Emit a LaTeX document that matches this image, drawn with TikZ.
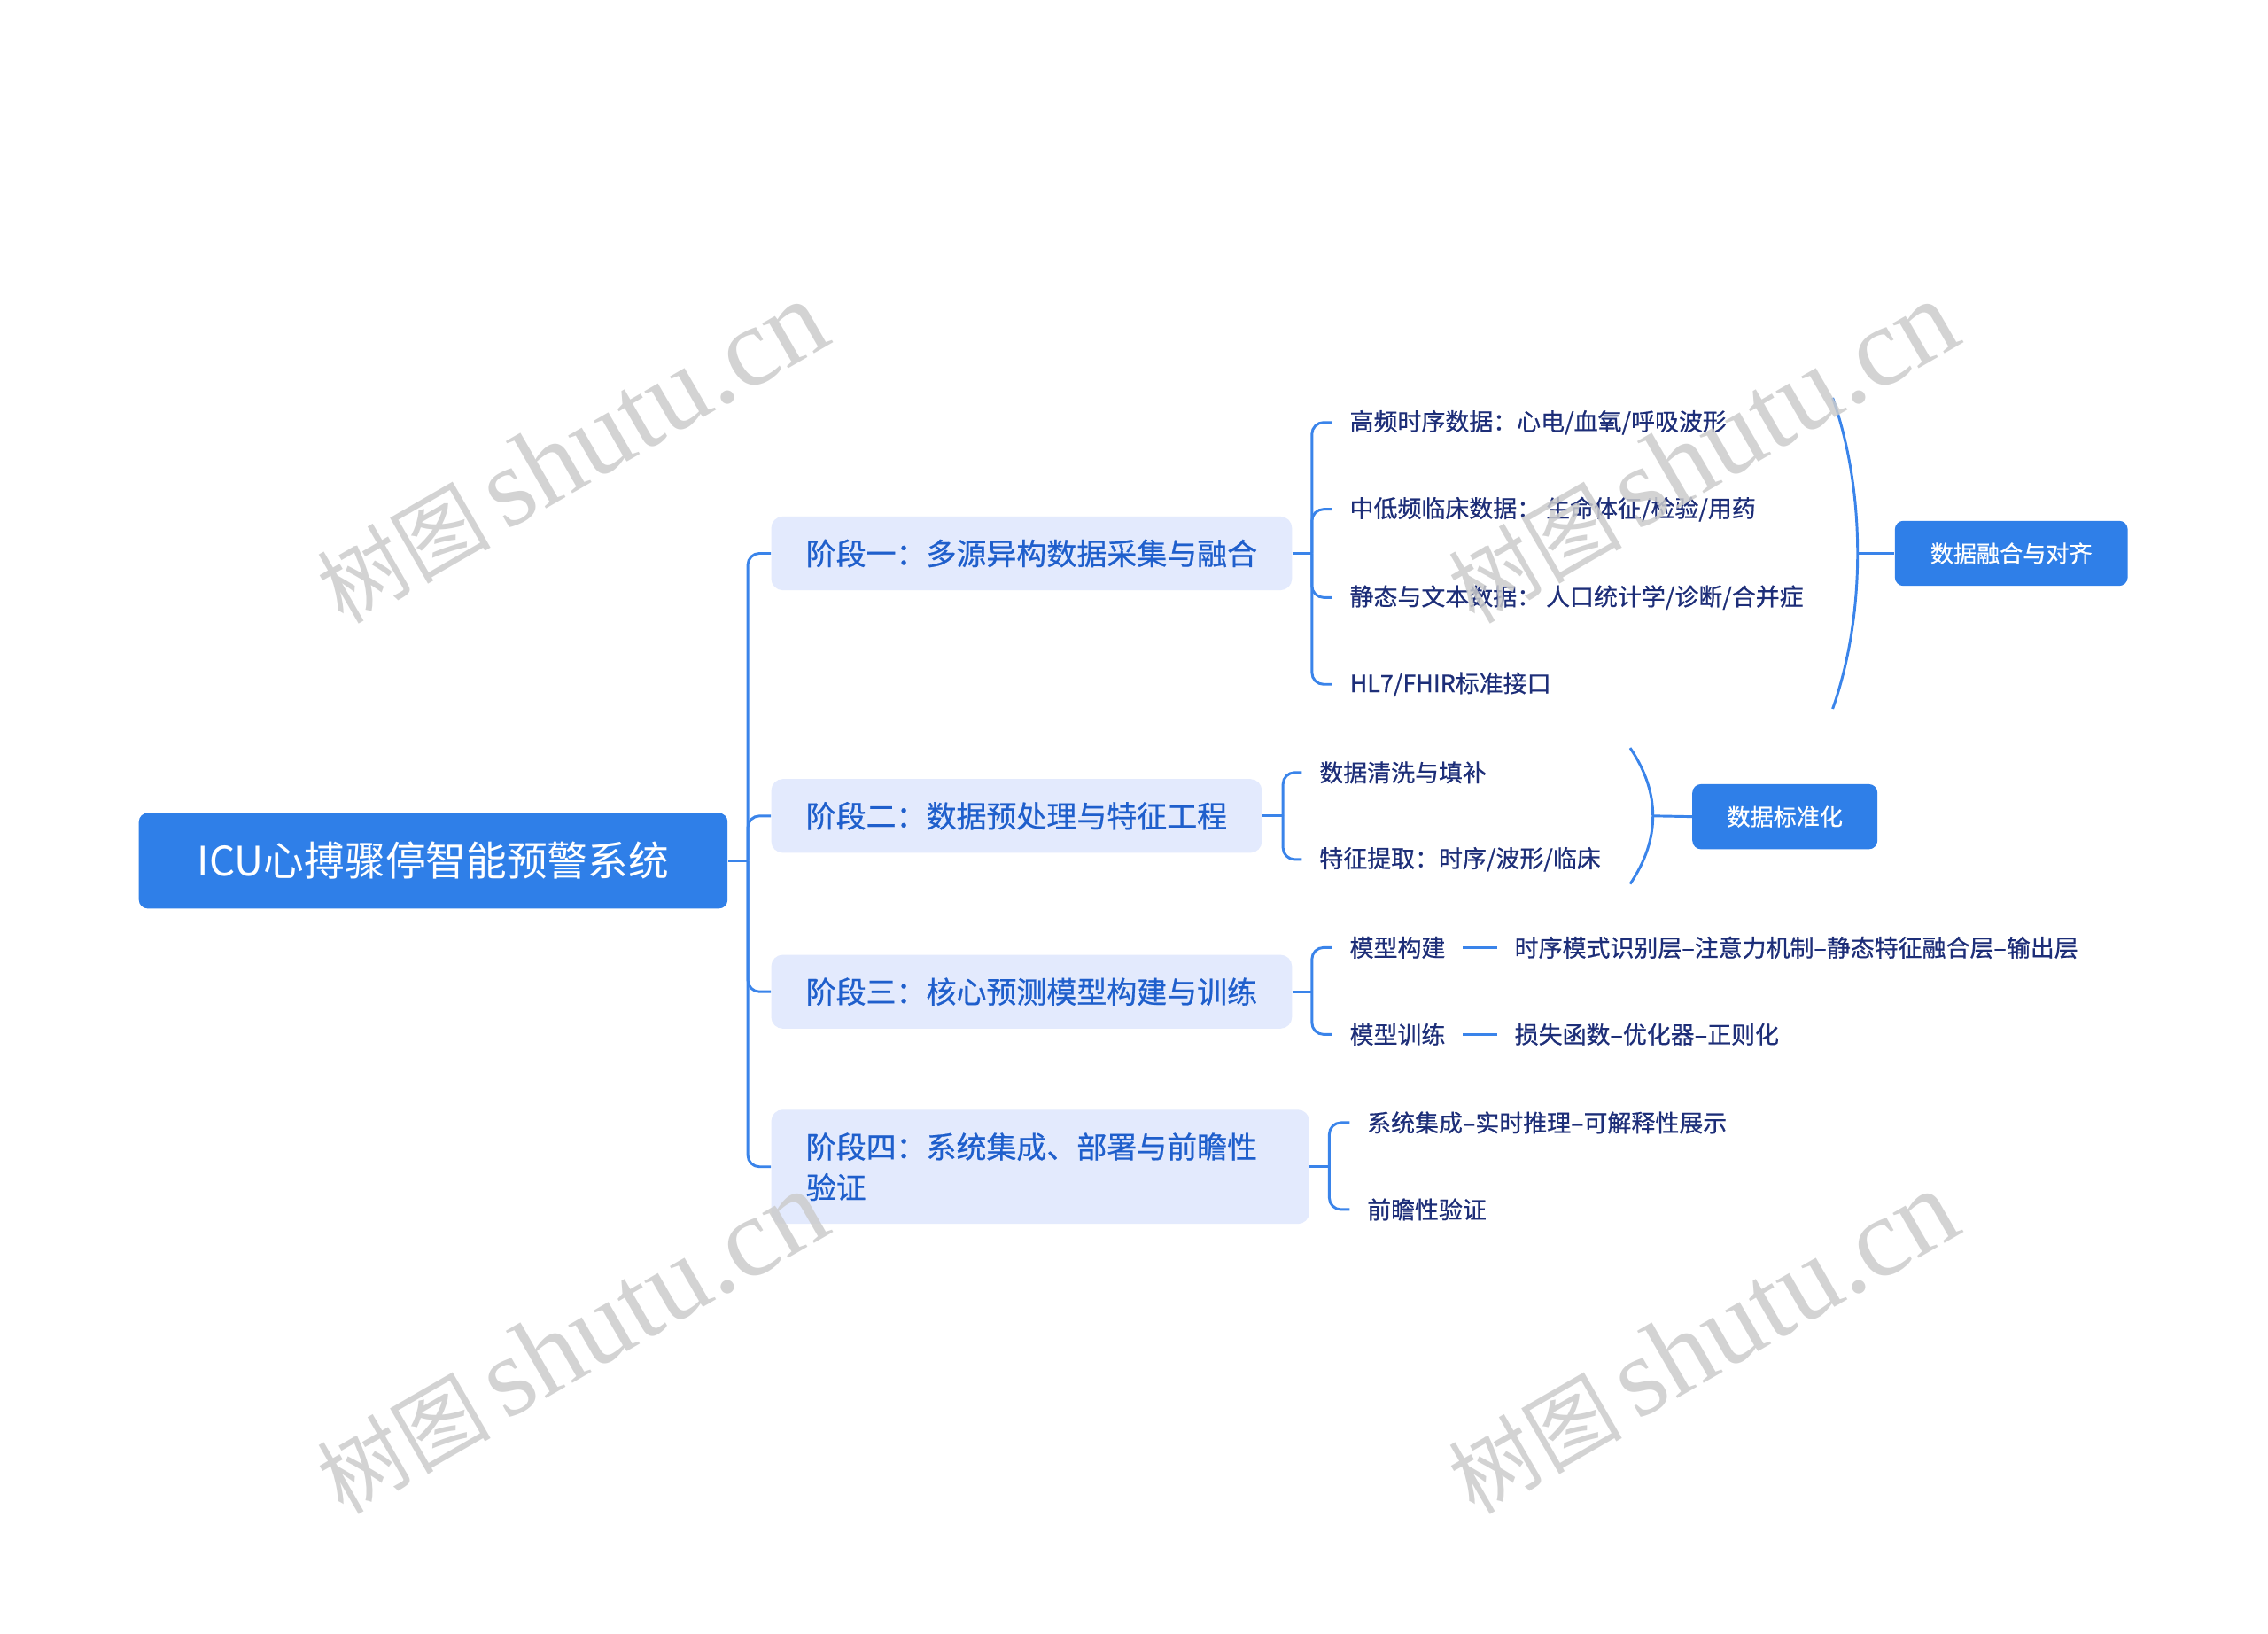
\documentclass[tikz,border=0pt]{standalone}
\usepackage{fontspec}
\setmainfont{Noto Sans CJK SC}
\newfontfamily\medcjk{Noto Sans CJK SC}[FakeBold=0.6]
\newfontfamily\wmserif{Liberation Serif}
\usetikzlibrary{calc}
\definecolor{rootblue}{HTML}{2F7FE8}
\definecolor{stagefill}{HTML}{E3EAFD}
\definecolor{stagetext}{HTML}{1F5FCC}
\definecolor{leaftext}{HTML}{1D2E78}
\definecolor{linecol}{HTML}{3A84EA}
\definecolor{wmcol}{HTML}{CCCCCC}
\newcommand{\wmtext}{{\fontsize{60}{70}\selectfont 树图}\hspace{10pt}{\wmserif\fontsize{78}{90}\selectfont shutu.cn}}
\begin{document}
\begin{tikzpicture}[x=1pt,y=-1pt,
 conn/.style={draw=linecol, line width=1.8pt, rounded corners=8pt},
 brace/.style={draw=linecol, line width=1.8pt},
 rootbox/.style={fill=rootblue, rounded corners=6pt, text=white, font=\fontsize{28}{32}\selectfont, minimum width=407pt, minimum height=66pt, inner sep=0pt},
 stagebox/.style={fill=stagefill, rounded corners=8pt, text=stagetext, font=\medcjk\fontsize{20.8}{28}\selectfont, inner xsep=24pt, inner ysep=0pt, minimum height=51pt, anchor=west},
 leaf/.style={text=leaftext, font=\medcjk\fontsize{16.5}{20}\selectfont, inner xsep=12pt, inner ysep=2pt, anchor=west},
 sumbox/.style={fill=rootblue, rounded corners=6pt, text=white, font=\medcjk\fontsize{16}{20}\selectfont, minimum height=45pt, inner sep=0pt},
 wmark/.style={text=wmcol, opacity=0.85, rotate=30}
]
\fill[white] (0,0) rectangle (1568,1129);
\useasboundingbox (0,0) rectangle (1568,1129);

% root and stages
\node[rootbox] (root) at (299.5,595) {ICU心搏骤停智能预警系统};
\node[stagebox] (s1) at (533,382.5) {阶段一：多源异构数据采集与融合};
\node[stagebox] (s2) at (533,564) {阶段二：数据预处理与特征工程};
\node[stagebox] (s3) at (533,685.5) {阶段三：核心预测模型构建与训练};
\node[stagebox, minimum height=79pt, text width=324pt, align=left] (s4) at (533,806.5) {阶段四：系统集成、部署与前瞻性\\验证};

\coordinate (rj) at (517,595);
\draw[conn] (root.east) -- (rj);
\foreach \s in {s1,s2,s3,s4} \draw[conn] (\s.west) -| (rj);

% stage 1 leaves
\node[leaf] (a1) at (921,292) {高频时序数据：心电/血氧/呼吸波形};
\node[leaf] (a2) at (921,352) {中低频临床数据： 生命体征/检验/用药};
\node[leaf] (a3) at (921,413) {静态与文本数据： 人口统计学/诊断/合并症};
\node[leaf] (a4) at (921,473) {HL7/FHIR标准接口};
\coordinate (j1) at (907,382.5);
\draw[conn] (s1.east) -- (j1);
\foreach \c in {a1,a2,a3,a4} \draw[conn] (\c.west) -| (j1);

\draw[brace] (1267,275) .. controls (1290,340) and (1290,425) .. (1267,490);
\coordinate (b1) at (1284,382.5);
\node[sumbox, minimum width=161pt] (f1) at (1390.5,382.5) {数据融合与对齐};
\draw[brace] (b1) -- (f1.west);

% stage 2 leaves
\node[leaf] (b21) at (900,534) {数据清洗与填补};
\node[leaf] (b22) at (900,594) {特征提取：时序/波形/临床};
\coordinate (j2) at (887,564);
\draw[conn] (s2.east) -- (j2);
\foreach \c in {b21,b22} \draw[conn] (\c.west) -| (j2);

\draw[brace] (1127,517) .. controls (1148,548) and (1148,580) .. (1127,611);
\coordinate (b2) at (1143,564);
\node[sumbox, minimum width=128pt] (f2) at (1234,564.5) {数据标准化};
\draw[brace] (b2) -- (f2.west);

% stage 3 leaves
\node[leaf] (c1) at (921,655) {模型构建};
\node[leaf] (c2) at (921,715) {模型训练};
\node[leaf] (d1) at (1035,655) {时序模式识别层–注意力机制–静态特征融合层–输出层};
\node[leaf] (d2) at (1035,715) {损失函数–优化器–正则化};
\coordinate (j3) at (907,685.5);
\draw[conn] (s3.east) -- (j3);
\foreach \c in {c1,c2} \draw[conn] (\c.west) -| (j3);
\draw[brace] (c1.east) -- (d1.west);
\draw[brace] (c2.east) -- (d2.west);

% stage 4 leaves
\node[leaf] (e1) at (933,776) {系统集成–实时推理–可解释性展示};
\node[leaf] (e2) at (933,836) {前瞻性验证};
\coordinate (j4) at (919,806.5);
\draw[conn] (s4.east) -- (j4);
\foreach \c in {e1,e2} \draw[conn] (\c.west) -| (j4);

% watermarks
\node[wmark] (w1) at (395,313) {\wmtext};
\node[wmark] (w2) at (1177,313) {\wmtext};
\node[wmark] (w3) at (395,928) {\wmtext};
\node[wmark] (w4) at (1177,928) {\wmtext};
\end{tikzpicture}
\end{document}
